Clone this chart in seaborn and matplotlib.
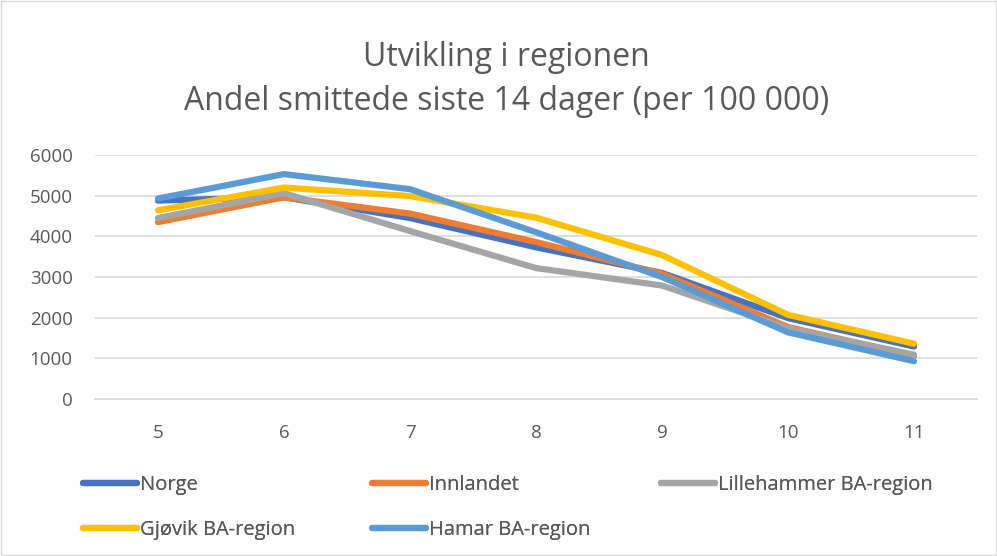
import pandas as pd
import matplotlib
matplotlib.use("Agg")
import matplotlib.pyplot as plt
import seaborn as sns

weeks = [5, 6, 7, 8, 9, 10, 11]
regions = ["Norge", "Innlandet", "Lillehammer BA-region", "Gjøvik BA-region", "Hamar BA-region"]
norge = [4880, 4960, 4450, 3730, 3100, 1990, 1290]
innlandet = [4350, 4960, 4560, 3860, 3080, 1770, 1060]
lillehammer = [4450, 5060, 4130, 3220, 2790, 1740, 1090]
gjovik = [4640, 5200, 4990, 4460, 3540, 2070, 1360]
hamar = [4930, 5530, 5160, 4100, 3000, 1640, 930]
colors = ["#4472C4", "#ED7D31", "#A5A5A5", "#FFC000", "#5B9BD5"]

df = pd.DataFrame({
    "uke": weeks * 5,
    "region": [r for r in regions for _ in weeks],
    "andel": norge + innlandet + lillehammer + gjovik + hamar,
})

sns.set_style("white")
plt.rcParams["font.family"] = ["Open Sans", "DejaVu Sans"]
txt = "#595959"

fig = plt.figure(figsize=(9.97, 5.56), dpi=100)
fig.patches.append(plt.Rectangle((0.001, 0.001), 0.998, 0.997, transform=fig.transFigure,
                                 fill=False, edgecolor="#D9D9D9", linewidth=1))
ax = fig.add_axes([95 / 997, (556 - 399) / 556, (977 - 95) / 997, (399 - 155) / 556])

sns.lineplot(data=df, x="uke", y="andel", hue="region", hue_order=regions,
             palette=colors, linewidth=4.5, ax=ax, legend=False)
for ln in ax.lines:
    ln.set_solid_capstyle("round")
    ln.set_solid_joinstyle("round")

ax.set_xlim(4.5, 11.5)
ax.set_ylim(0, 6000)
ax.set_xticks(weeks)
ax.set_yticks(range(0, 6001, 1000))
ax.tick_params(axis="both", length=0, labelsize=13.5, labelcolor=txt)
ax.tick_params(axis="x", pad=18)
ax.tick_params(axis="y", pad=16)
ax.grid(axis="y", color="#D9D9D9", linewidth=1.2)
ax.set_axisbelow(True)
for s in ["top", "right", "left"]:
    ax.spines[s].set_visible(False)
ax.spines["bottom"].set_color("#D9D9D9")
ax.spines["bottom"].set_linewidth(1.2)
ax.set_xlabel("")
ax.set_ylabel("")

fig.text(0.508, 0.897, "Utvikling i regionen", ha="center", va="center", fontsize=23, color=txt)
fig.text(0.508, 0.817, "Andel smittede siste 14 dager (per 100 000)", ha="center", va="center",
         fontsize=23, color=txt)

# legend: three columns placed by hand so they line up like the original
handles = {r: plt.Line2D([], [], color=c, linewidth=4.5, solid_capstyle="round")
           for r, c in zip(regions, colors)}
columns = [(83, ["Norge", "Gjøvik BA-region"]),
           (372, ["Innlandet", "Hamar BA-region"]),
           (661, ["Lillehammer BA-region"])]
for x0, names in columns:
    leg = fig.legend([handles[n] for n in names], names, loc="upper left",
                     bbox_to_anchor=(x0 / 997, (556 - 475) / 556), frameon=False,
                     fontsize=14.5, labelcolor=txt, handlelength=2.7, handletextpad=0.15,
                     borderpad=0, borderaxespad=0, labelspacing=1.25)
    fig.add_artist(leg)

fig.savefig("out.png", dpi=100)
